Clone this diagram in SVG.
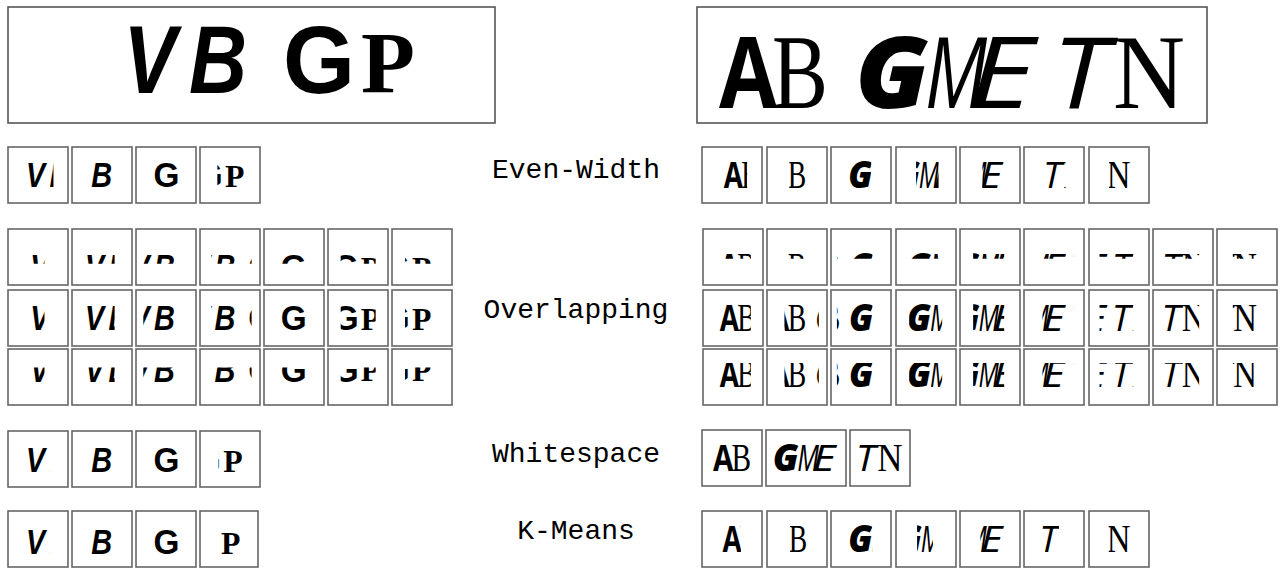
<svg xmlns="http://www.w3.org/2000/svg" width="1282" height="569" viewBox="0 0 1282 569">
<style>
.bx{fill:#fff;stroke:#666;stroke-width:1.6}
.bn{fill:#fff;stroke:#555;stroke-width:1.6}
text{text-anchor:middle;fill:#000}
.lbl{font-family:"Liberation Mono","DejaVu Sans Mono",monospace;font-size:28px}
.sbi{font-family:"Liberation Sans",Arial,sans-serif;font-weight:700;font-style:italic;font-size:97px}
.sb{font-family:"Liberation Sans",Arial,sans-serif;font-weight:700;font-size:97px}
.pb{font-family:"Liberation Serif","Times New Roman",serif;font-weight:700;font-size:86px}
.ob{font-family:"Open Sans","Noto Sans",sans-serif;font-weight:700;font-size:98px}
.ser{font-family:"Liberation Serif","Times New Roman",serif;font-size:106px}
.obi{font-family:"Open Sans","Noto Sans",sans-serif;font-weight:800;font-style:italic;font-size:100px}
.oi{font-family:"Open Sans","Noto Sans",sans-serif;font-style:italic;font-size:98px}
</style>
<defs>
<g id="L">
<text class="sbi" x="150" y="93" textLength="53" lengthAdjust="spacingAndGlyphs">V</text>
<text class="sbi" x="218" y="93" textLength="58" lengthAdjust="spacingAndGlyphs">B</text>
<text class="sb" x="319" y="93" textLength="72" lengthAdjust="spacingAndGlyphs">G</text>
<text class="pb" x="388" y="92" textLength="54" lengthAdjust="spacingAndGlyphs">P</text>
</g>
<g id="R">
<text class="ob" x="748" y="108" textLength="58" lengthAdjust="spacingAndGlyphs">A</text>
<text class="ser" x="800" y="108" textLength="56" lengthAdjust="spacingAndGlyphs">B</text>
<text class="obi" x="892" y="108" textLength="74" lengthAdjust="spacingAndGlyphs">G</text>
<text class="oi" x="956" y="108" textLength="62" lengthAdjust="spacingAndGlyphs">M</text>
<text class="oi" x="1001" y="108" textLength="66" lengthAdjust="spacingAndGlyphs">E</text>
<text class="oi" x="1080" y="108" textLength="56" lengthAdjust="spacingAndGlyphs">T</text>
<text class="ser" x="1149" y="108" textLength="72" lengthAdjust="spacingAndGlyphs">N</text>
</g>
</defs>

<g id="banner-left"><rect class="bn" x="8" y="7" width="487" height="116"/><use href="#L"/></g>
<g id="banner-right"><rect class="bn" x="697" y="7" width="510" height="116"/><use href="#R"/></g>

<g id="labels">
<text class="lbl" x="576" y="178">Even-Width</text>
<text class="lbl" x="576" y="318">Overlapping</text>
<text class="lbl" x="576" y="462">Whitespace</text>
<text class="lbl" x="576" y="539">K-Means</text>
</g>

<!-- Even-Width left -->
<g id="ew-l1"><rect class="bx" x="8" y="147" width="60" height="56"/><g transform="translate(38 175) scale(.36 .37)"><svg x="-40" y="-60" width="83" height="120" viewBox="117 0 83 120"><use href="#L"/></svg></g></g>
<g id="ew-l2"><rect class="bx" x="72" y="147" width="60" height="56"/><g transform="translate(102 175) scale(.36 .37)"><svg x="-33" y="-60" width="72" height="120" viewBox="186 0 72 120"><use href="#L"/></svg></g></g>
<g id="ew-l3"><rect class="bx" x="136" y="147" width="60" height="56"/><g transform="translate(166 175) scale(.36 .37)"><svg x="-38" y="-60" width="76" height="120" viewBox="280 0 76 120"><use href="#L"/></svg></g></g>
<g id="ew-l4"><rect class="bx" x="200" y="147" width="60" height="56"/><g transform="translate(230 175) scale(.36 .37)"><svg x="-35" y="-60" width="75" height="120" viewBox="340 0 75 120"><use href="#L"/></svg></g></g>

<!-- Overlapping left row 1 -->
<g id="ov-l1-1"><rect class="bx" x="8" y="229" width="60" height="56"/><g transform="translate(38 257) scale(.36 .37)"><svg x="-45" y="-63.5" width="63" height="82" viewBox="100 -30 63 82"><use href="#L"/></svg></g></g>
<g id="ov-l1-2"><rect class="bx" x="72" y="229" width="60" height="56"/><g transform="translate(102 257) scale(.36 .37)"><svg x="-46" y="-63.5" width="81" height="82" viewBox="125 -30 81 82"><use href="#L"/></svg></g></g>
<g id="ov-l1-3"><rect class="bx" x="136" y="229" width="60" height="56"/><g transform="translate(166 257) scale(.36 .37)"><svg x="-63" y="-63.5" width="106" height="82" viewBox="159 -30 106 82"><use href="#L"/></svg></g></g>
<g id="ov-l1-4"><rect class="bx" x="200" y="229" width="60" height="56"/><g transform="translate(230 257) scale(.36 .37)"><svg x="-52" y="-63.5" width="112" height="82" viewBox="180 -30 112 82"><use href="#L"/></svg></g></g>
<g id="ov-l1-5"><rect class="bx" x="264" y="229" width="60" height="56"/><g transform="translate(294 257) scale(.36 .37)"><svg x="-45" y="-63.5" width="82" height="82" viewBox="275 -30 82 82"><use href="#L"/></svg></g></g>
<g id="ov-l1-6"><rect class="bx" x="328" y="229" width="60" height="56"/><g transform="translate(358 257) scale(.36 .37)"><svg x="-48" y="-63.5" width="97" height="82" viewBox="305 -30 97 82"><use href="#L"/></svg></g></g>
<g id="ov-l1-7"><rect class="bx" x="392" y="229" width="60" height="56"/><g transform="translate(422 257) scale(.36 .37)"><svg x="-47" y="-63.5" width="88" height="82" viewBox="342 -30 88 82"><use href="#L"/></svg></g></g>

<!-- Overlapping left row 2 -->
<g id="ov-l2-1"><rect class="bx" x="8" y="290" width="60" height="56"/><g transform="translate(38 318) scale(.36 .37)"><svg x="-45" y="-60" width="63" height="120" viewBox="100 0 63 120"><use href="#L"/></svg></g></g>
<g id="ov-l2-2"><rect class="bx" x="72" y="290" width="60" height="56"/><g transform="translate(102 318) scale(.36 .37)"><svg x="-46" y="-60" width="81" height="120" viewBox="125 0 81 120"><use href="#L"/></svg></g></g>
<g id="ov-l2-3"><rect class="bx" x="136" y="290" width="60" height="56"/><g transform="translate(166 318) scale(.36 .37)"><svg x="-63" y="-60" width="106" height="120" viewBox="159 0 106 120"><use href="#L"/></svg></g></g>
<g id="ov-l2-4"><rect class="bx" x="200" y="290" width="60" height="56"/><g transform="translate(230 318) scale(.36 .37)"><svg x="-52" y="-60" width="112" height="120" viewBox="180 0 112 120"><use href="#L"/></svg></g></g>
<g id="ov-l2-5"><rect class="bx" x="264" y="290" width="60" height="56"/><g transform="translate(294 318) scale(.36 .37)"><svg x="-45" y="-60" width="82" height="120" viewBox="275 0 82 120"><use href="#L"/></svg></g></g>
<g id="ov-l2-6"><rect class="bx" x="328" y="290" width="60" height="56"/><g transform="translate(358 318) scale(.36 .37)"><svg x="-48" y="-60" width="97" height="120" viewBox="305 0 97 120"><use href="#L"/></svg></g></g>
<g id="ov-l2-7"><rect class="bx" x="392" y="290" width="60" height="56"/><g transform="translate(422 318) scale(.36 .37)"><svg x="-47" y="-60" width="88" height="120" viewBox="342 0 88 120"><use href="#L"/></svg></g></g>

<!-- Overlapping left row 3 -->
<g id="ov-l3-1"><rect class="bx" x="8" y="349" width="60" height="56"/><g transform="translate(38 377) scale(.36 .37)"><svg x="-45" y="-26" width="63" height="96" viewBox="100 54 63 96"><use href="#L"/></svg></g></g>
<g id="ov-l3-2"><rect class="bx" x="72" y="349" width="60" height="56"/><g transform="translate(102 377) scale(.36 .37)"><svg x="-46" y="-26" width="81" height="96" viewBox="125 54 81 96"><use href="#L"/></svg></g></g>
<g id="ov-l3-3"><rect class="bx" x="136" y="349" width="60" height="56"/><g transform="translate(166 377) scale(.36 .37)"><svg x="-63" y="-26" width="106" height="96" viewBox="159 54 106 96"><use href="#L"/></svg></g></g>
<g id="ov-l3-4"><rect class="bx" x="200" y="349" width="60" height="56"/><g transform="translate(230 377) scale(.36 .37)"><svg x="-52" y="-26" width="112" height="96" viewBox="180 54 112 96"><use href="#L"/></svg></g></g>
<g id="ov-l3-5"><rect class="bx" x="264" y="349" width="60" height="56"/><g transform="translate(294 377) scale(.36 .37)"><svg x="-45" y="-26" width="82" height="96" viewBox="275 54 82 96"><use href="#L"/></svg></g></g>
<g id="ov-l3-6"><rect class="bx" x="328" y="349" width="60" height="56"/><g transform="translate(358 377) scale(.36 .37)"><svg x="-48" y="-26" width="97" height="96" viewBox="305 54 97 96"><use href="#L"/></svg></g></g>
<g id="ov-l3-7"><rect class="bx" x="392" y="349" width="60" height="56"/><g transform="translate(422 377) scale(.36 .37)"><svg x="-47" y="-26" width="88" height="96" viewBox="342 54 88 96"><use href="#L"/></svg></g></g>

<!-- Whitespace left -->
<g id="ws-l1"><rect class="bx" x="8" y="431" width="60" height="56"/><g transform="translate(38 459) scale(.36 .37)"><svg x="-42" y="-58" width="75" height="120" viewBox="115 0 75 120"><use href="#L"/></svg></g></g>
<g id="ws-l2"><rect class="bx" x="72" y="431" width="60" height="56"/><g transform="translate(102 459) scale(.36 .37)"><svg x="-31" y="-58" width="72" height="120" viewBox="188 0 72 120"><use href="#L"/></svg></g></g>
<g id="ws-l3"><rect class="bx" x="136" y="431" width="60" height="56"/><g transform="translate(166 459) scale(.36 .37)"><svg x="-43" y="-58" width="81" height="120" viewBox="275 0 81 120"><use href="#L"/></svg></g></g>
<g id="ws-l4"><rect class="bx" x="200" y="431" width="60" height="56"/><g transform="translate(230 459) scale(.36 .37)"><svg x="-32" y="-58" width="72" height="120" viewBox="348 0 72 120"><use href="#L"/></svg></g></g>

<!-- K-Means left -->
<g id="km-l1"><rect class="bx" x="8" y="511" width="60" height="56"/><g transform="translate(38 539) scale(.36 .37)"><svg x="-42" y="-52" width="75" height="120" viewBox="115 0 75 120"><use href="#L"/></svg></g></g>
<g id="km-l2"><rect class="bx" x="72" y="511" width="60" height="56"/><g transform="translate(102 539) scale(.36 .37)"><svg x="-31" y="-52" width="72" height="120" viewBox="188 0 72 120"><use href="#L"/></svg></g></g>
<g id="km-l3"><rect class="bx" x="136" y="511" width="60" height="56"/><g transform="translate(166 539) scale(.36 .37)"><svg x="-43" y="-52" width="81" height="120" viewBox="275 0 81 120"><use href="#L"/></svg></g></g>
<g id="km-l4"><rect class="bx" x="200" y="511" width="58" height="56"/><g transform="translate(229 539) scale(.36 .37)"><svg x="-26" y="-52" width="63" height="120" viewBox="357 0 63 120"><use href="#L"/></svg></g></g>

<!-- Even-Width right -->
<g id="ew-r1"><rect class="bx" x="702" y="147" width="60" height="56"/><g transform="translate(732 175) scale(.33 .37)"><svg x="-44" y="-63" width="90" height="126" viewBox="700 10 90 126"><use href="#R"/></svg></g></g>
<g id="ew-r2"><rect class="bx" x="767" y="147" width="60" height="56"/><g transform="translate(797 175) scale(.33 .37)"><svg x="-23" y="-63" width="68" height="126" viewBox="777 10 68 126"><use href="#R"/></svg></g></g>
<g id="ew-r3"><rect class="bx" x="831" y="147" width="60" height="56"/><g transform="translate(861 175) scale(.33 .37)"><svg x="-54" y="-63" width="85" height="126" viewBox="840 10 85 126"><use href="#R"/></svg></g></g>
<g id="ew-r4"><rect class="bx" x="896" y="147" width="60" height="56"/><g transform="translate(926 175) scale(.33 .37)"><svg x="-30" y="-63" width="68" height="126" viewBox="917 10 68 126"><use href="#R"/></svg></g></g>
<g id="ew-r5"><rect class="bx" x="960" y="147" width="60" height="56"/><g transform="translate(990 175) scale(.33 .37)"><svg x="-23" y="-63" width="70" height="126" viewBox="975 10 70 126"><use href="#R"/></svg></g></g>
<g id="ew-r6"><rect class="bx" x="1024" y="147" width="60" height="56"/><g transform="translate(1054 175) scale(.33 .37)"><svg x="-40" y="-63" width="75" height="126" viewBox="1045 10 75 126"><use href="#R"/></svg></g></g>
<g id="ew-r7"><rect class="bx" x="1089" y="147" width="60" height="56"/><g transform="translate(1119 175) scale(.33 .37)"><svg x="-30" y="-63" width="80" height="126" viewBox="1120 10 80 126"><use href="#R"/></svg></g></g>

<!-- Overlapping right row 1 -->
<g id="ov-r1-1"><rect class="bx" x="703" y="229" width="60" height="56"/><g transform="translate(733 257) scale(.33 .37)"><svg x="-59" y="-66" width="113" height="71" viewBox="700 -20 113 71"><use href="#R"/></svg></g></g>
<g id="ov-r1-2"><rect class="bx" x="767" y="229" width="60" height="56"/><g transform="translate(797 257) scale(.33 .37)"><svg x="-38" y="-66" width="104" height="71" viewBox="762 -20 104 71"><use href="#R"/></svg></g></g>
<g id="ov-r1-3"><rect class="bx" x="831" y="229" width="60" height="56"/><g transform="translate(861 257) scale(.33 .37)"><svg x="-73" y="-66" width="108" height="71" viewBox="818 -20 108 71"><use href="#R"/></svg></g></g>
<g id="ov-r1-4"><rect class="bx" x="896" y="229" width="60" height="56"/><g transform="translate(926 257) scale(.33 .37)"><svg x="-51" y="-66" width="100" height="71" viewBox="862 -20 100 71"><use href="#R"/></svg></g></g>
<g id="ov-r1-5"><rect class="bx" x="960" y="229" width="60" height="56"/><g transform="translate(990 257) scale(.33 .37)"><svg x="-51" y="-66" width="94" height="71" viewBox="909 -20 94 71"><use href="#R"/></svg></g></g>
<g id="ov-r1-6"><rect class="bx" x="1024" y="229" width="60" height="56"/><g transform="translate(1054 257) scale(.33 .37)"><svg x="-35" y="-66" width="94" height="71" viewBox="968 -20 94 71"><use href="#R"/></svg></g></g>
<g id="ov-r1-7"><rect class="bx" x="1089" y="229" width="60" height="56"/><g transform="translate(1119 257) scale(.33 .37)"><svg x="-59" y="-66" width="102" height="71" viewBox="1015 -20 102 71"><use href="#R"/></svg></g></g>
<g id="ov-r1-8"><rect class="bx" x="1153" y="229" width="60" height="56"/><g transform="translate(1183 257) scale(.33 .37)"><svg x="-62" y="-66" width="111" height="71" viewBox="1055 -20 111 71"><use href="#R"/></svg></g></g>
<g id="ov-r1-9"><rect class="bx" x="1217" y="229" width="60" height="56"/><g transform="translate(1247 257) scale(.33 .37)"><svg x="-43" y="-66" width="98" height="71" viewBox="1112 -20 98 71"><use href="#R"/></svg></g></g>

<!-- Overlapping right row 2 -->
<g id="ov-r2-1"><rect class="bx" x="703" y="290" width="60" height="56"/><g transform="translate(733 318) scale(.33 .37)"><svg x="-59" y="-63" width="113" height="126" viewBox="700 10 113 126"><use href="#R"/></svg></g></g>
<g id="ov-r2-2"><rect class="bx" x="767" y="290" width="60" height="56"/><g transform="translate(797 318) scale(.33 .37)"><svg x="-38" y="-63" width="104" height="126" viewBox="762 10 104 126"><use href="#R"/></svg></g></g>
<g id="ov-r2-3"><rect class="bx" x="831" y="290" width="60" height="56"/><g transform="translate(861 318) scale(.33 .37)"><svg x="-73" y="-63" width="108" height="126" viewBox="818 10 108 126"><use href="#R"/></svg></g></g>
<g id="ov-r2-4"><rect class="bx" x="896" y="290" width="60" height="56"/><g transform="translate(926 318) scale(.33 .37)"><svg x="-51" y="-63" width="100" height="126" viewBox="862 10 100 126"><use href="#R"/></svg></g></g>
<g id="ov-r2-5"><rect class="bx" x="960" y="290" width="60" height="56"/><g transform="translate(990 318) scale(.33 .37)"><svg x="-51" y="-63" width="94" height="126" viewBox="909 10 94 126"><use href="#R"/></svg></g></g>
<g id="ov-r2-6"><rect class="bx" x="1024" y="290" width="60" height="56"/><g transform="translate(1054 318) scale(.33 .37)"><svg x="-35" y="-63" width="94" height="126" viewBox="968 10 94 126"><use href="#R"/></svg></g></g>
<g id="ov-r2-7"><rect class="bx" x="1089" y="290" width="60" height="56"/><g transform="translate(1119 318) scale(.33 .37)"><svg x="-59" y="-63" width="102" height="126" viewBox="1015 10 102 126"><use href="#R"/></svg></g></g>
<g id="ov-r2-8"><rect class="bx" x="1153" y="290" width="60" height="56"/><g transform="translate(1183 318) scale(.33 .37)"><svg x="-62" y="-63" width="111" height="126" viewBox="1055 10 111 126"><use href="#R"/></svg></g></g>
<g id="ov-r2-9"><rect class="bx" x="1217" y="290" width="60" height="56"/><g transform="translate(1247 318) scale(.33 .37)"><svg x="-43" y="-63" width="98" height="126" viewBox="1112 10 98 126"><use href="#R"/></svg></g></g>

<!-- Overlapping right row 3 -->
<g id="ov-r3-1"><rect class="bx" x="703" y="349" width="60" height="56"/><g transform="translate(733 377) scale(.33 .37)"><svg x="-59" y="-38" width="113" height="107" viewBox="700 43 113 107"><use href="#R"/></svg></g></g>
<g id="ov-r3-2"><rect class="bx" x="767" y="349" width="60" height="56"/><g transform="translate(797 377) scale(.33 .37)"><svg x="-38" y="-38" width="104" height="107" viewBox="762 43 104 107"><use href="#R"/></svg></g></g>
<g id="ov-r3-3"><rect class="bx" x="831" y="349" width="60" height="56"/><g transform="translate(861 377) scale(.33 .37)"><svg x="-73" y="-38" width="108" height="107" viewBox="818 43 108 107"><use href="#R"/></svg></g></g>
<g id="ov-r3-4"><rect class="bx" x="896" y="349" width="60" height="56"/><g transform="translate(926 377) scale(.33 .37)"><svg x="-51" y="-38" width="100" height="107" viewBox="862 43 100 107"><use href="#R"/></svg></g></g>
<g id="ov-r3-5"><rect class="bx" x="960" y="349" width="60" height="56"/><g transform="translate(990 377) scale(.33 .37)"><svg x="-51" y="-38" width="94" height="107" viewBox="909 43 94 107"><use href="#R"/></svg></g></g>
<g id="ov-r3-6"><rect class="bx" x="1024" y="349" width="60" height="56"/><g transform="translate(1054 377) scale(.33 .37)"><svg x="-35" y="-38" width="94" height="107" viewBox="968 43 94 107"><use href="#R"/></svg></g></g>
<g id="ov-r3-7"><rect class="bx" x="1089" y="349" width="60" height="56"/><g transform="translate(1119 377) scale(.33 .37)"><svg x="-59" y="-38" width="102" height="107" viewBox="1015 43 102 107"><use href="#R"/></svg></g></g>
<g id="ov-r3-8"><rect class="bx" x="1153" y="349" width="60" height="56"/><g transform="translate(1183 377) scale(.33 .37)"><svg x="-62" y="-38" width="111" height="107" viewBox="1055 43 111 107"><use href="#R"/></svg></g></g>
<g id="ov-r3-9"><rect class="bx" x="1217" y="349" width="60" height="56"/><g transform="translate(1247 377) scale(.33 .37)"><svg x="-43" y="-38" width="98" height="107" viewBox="1112 43 98 107"><use href="#R"/></svg></g></g>

<!-- Whitespace right -->
<g id="ws-r1"><rect class="bx" x="702" y="430" width="60" height="56"/><g transform="translate(732 458) scale(.35 .37)"><svg x="-58.5" y="-63" width="115" height="126" viewBox="715 10 115 126"><use href="#R"/></svg></g></g>
<g id="ws-r2"><rect class="bx" x="766" y="430" width="80" height="56"/><g transform="translate(806 458) scale(.35 .37)"><svg x="-95" y="-63" width="190" height="126" viewBox="855 10 190 126"><use href="#R"/></svg></g></g>
<g id="ws-r3"><rect class="bx" x="850" y="430" width="60" height="56"/><g transform="translate(880 458) scale(.35 .37)"><svg x="-66" y="-63" width="135" height="126" viewBox="1055 10 135 126"><use href="#R"/></svg></g></g>

<!-- K-Means right -->
<g id="km-r1"><rect class="bx" x="702" y="511" width="60" height="56"/><g transform="translate(732 539) scale(.33 .37)"><svg x="-48" y="-63" width="75" height="126" viewBox="700 10 75 126"><use href="#R"/></svg></g></g>
<g id="km-r2"><rect class="bx" x="767" y="511" width="60" height="56"/><g transform="translate(797 539) scale(.33 .37)"><svg x="-21" y="-63" width="64" height="126" viewBox="776 10 64 126"><use href="#R"/></svg></g></g>
<g id="km-r3"><rect class="bx" x="831" y="511" width="60" height="56"/><g transform="translate(861 539) scale(.33 .37)"><svg x="-44" y="-63" width="78" height="126" viewBox="850 10 78 126"><use href="#R"/></svg></g></g>
<g id="km-r4"><rect class="bx" x="896" y="511" width="60" height="56"/><g transform="translate(926 539) scale(.33 .37)"><svg x="-27" y="-63" width="48" height="126" viewBox="914 10 48 126"><use href="#R"/></svg></g></g>
<g id="km-r5"><rect class="bx" x="960" y="511" width="60" height="56"/><g transform="translate(990 539) scale(.33 .37)"><svg x="-29" y="-63" width="77" height="126" viewBox="968 10 77 126"><use href="#R"/></svg></g></g>
<g id="km-r6"><rect class="bx" x="1024" y="511" width="60" height="56"/><g transform="translate(1054 539) scale(.33 .37)"><svg x="-47" y="-63" width="62" height="126" viewBox="1050 10 62 126"><use href="#R"/></svg></g></g>
<g id="km-r7"><rect class="bx" x="1089" y="511" width="60" height="56"/><g transform="translate(1119 539) scale(.33 .37)"><svg x="-31" y="-63" width="81" height="126" viewBox="1119 10 81 126"><use href="#R"/></svg></g></g>
</svg>
